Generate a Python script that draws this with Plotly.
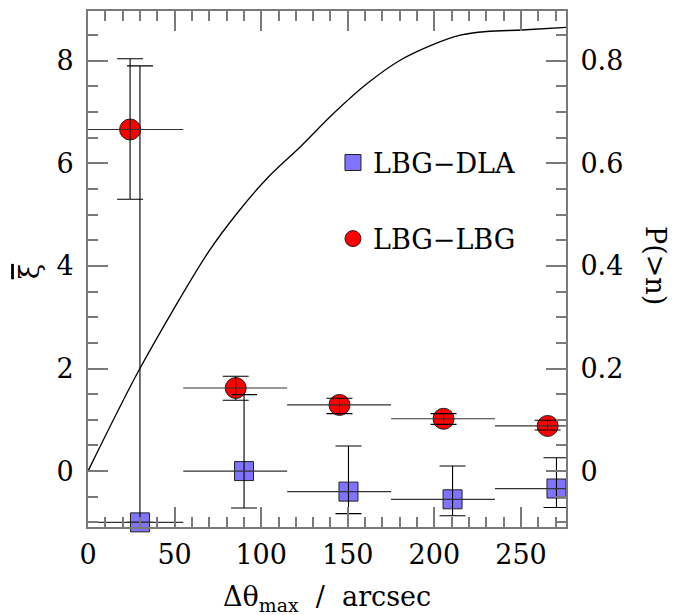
import plotly.graph_objects as go

# ---- data ----
bin_lo = [0, 55, 115, 175, 235]
bin_hi = [55, 115, 175, 235, 295]

lbg_x = [24.3, 85.3, 145.2, 205.3, 265.4]
lbg_xi = [6.66, 1.62, 1.29, 1.02, 0.88]
lbg_hi = [8.04, 1.85, 1.42, 1.12, 0.99]
lbg_lo = [5.30, 1.38, 1.12, 0.91, 0.80]

dla_x = [30.0, 90.1, 150.4, 210.5, 270.5]
dla_xi = [-1.00, 0.00, -0.40, -0.55, -0.34]
dla_hi = [7.90, 1.49, 0.49, 0.10, 0.26]
dla_lo = [-1.00, -0.72, -0.83, -0.87, -0.71]

p_x = [0, 29.8, 69.3, 87.6, 104.0, 122.5, 141.7, 161.0, 180.2, 199.5, 214.9, 230.3, 250.5, 276.0]
p_val = [0.0, 0.199, 0.426, 0.509, 0.573, 0.632, 0.697, 0.755, 0.801, 0.832, 0.850, 0.857, 0.860, 0.865]

x_ticks = [0, 50, 100, 150, 200, 250]
y_ticks = [0, 2, 4, 6, 8]
p_ticks = [0, 0.2, 0.4, 0.6, 0.8]

FONT = "DejaVu Serif"
GREY = "#7a7a7a"
RED = "#ff0000"
BLUE = "#8073ff"


def errs(x, y, lo, hi, blo, bhi):
    return dict(
        xp=[b - xi for xi, b in zip(x, bhi)],
        xm=[xi - b for xi, b in zip(x, blo)],
        yp=[h - yi for yi, h in zip(y, hi)],
        ym=[yi - l for yi, l in zip(y, lo)],
    )


fig = go.Figure()

# P(>n) curve on the right axis
fig.add_trace(go.Scatter(x=p_x, y=p_val, mode="lines", yaxis="y2",
                         line=dict(color="black", width=1.3, shape="spline", smoothing=0.8),
                         showlegend=False, hoverinfo="skip"))

# markers
fig.add_trace(go.Scatter(x=dla_x, y=dla_xi, mode="markers", name="LBG\u2212DLA",
                         legendgroup="a", cliponaxis=False,
                         marker=dict(symbol="square", size=19, color=BLUE,
                                     line=dict(color="#222", width=1))))
fig.add_trace(go.Scatter(x=lbg_x, y=lbg_xi, mode="markers", name="LBG\u2212LBG",
                         legendgroup="b", cliponaxis=False,
                         marker=dict(symbol="circle", size=21, color=RED,
                                     line=dict(color="#222", width=1))))

# error bars drawn on top of the markers
for x, y, lo, hi in [(dla_x, dla_xi, dla_lo, dla_hi), (lbg_x, lbg_xi, lbg_lo, lbg_hi)]:
    e = errs(x, y, lo, hi, bin_lo, bin_hi)
    fig.add_trace(go.Scatter(
        x=x, y=y, mode="markers", showlegend=False, hoverinfo="skip",
        marker=dict(size=1, color="rgba(0,0,0,0)"),
        error_x=dict(type="data", symmetric=False, array=e["xp"], arrayminus=e["xm"],
                     color="#333", thickness=1.2, width=0),
        error_y=dict(type="data", symmetric=False, array=e["yp"], arrayminus=e["ym"],
                     color="black", thickness=1.1, width=13),
    ))

axis_common = dict(showgrid=False, zeroline=False, showline=True, linecolor=GREY,
                   linewidth=2, ticks="inside", ticklen=20, tickwidth=1.5,
                   tickcolor=GREY, tickfont=dict(family=FONT, size=27, color="black"))

fig.update_layout(
    width=696, height=615,
    margin=dict(l=88, r=130, t=9, b=88),
    paper_bgcolor="white", plot_bgcolor="white",
    font=dict(family=FONT, size=27, color="black"),
    xaxis=dict(range=[0, 276], tickvals=x_ticks, mirror="ticks", ticklabelstandoff=3,
               minor=dict(dtick=10, tick0=0, ticklen=10, ticks="inside",
                          tickcolor=GREY, tickwidth=1.5),
               **axis_common),
    yaxis=dict(range=[-1.09, 8.97], tickvals=y_ticks, ticklabelstandoff=7,
               minor=dict(dtick=0.5, tick0=0, ticklen=10, ticks="inside",
                          tickcolor=GREY, tickwidth=1.5),
               **axis_common),
    yaxis2=dict(range=[-0.109, 0.897], tickvals=p_ticks, overlaying="y", side="right",
                ticklabelstandoff=7,
                minor=dict(dtick=0.05, tick0=0, ticklen=10, ticks="inside",
                           tickcolor=GREY, tickwidth=1.5),
                **axis_common),
    legend=dict(x=0.5125, y=0.753, xanchor="left", yanchor="top",
                bgcolor="rgba(0,0,0,0)", font=dict(family=FONT, size=27),
                traceorder="grouped", tracegroupgap=38),
    annotations=[
        dict(text='<span style="text-decoration:overline">\u03be</span>',
             xref="paper", yref="paper", x=-0.123, y=0.494,
             textangle=-90, showarrow=False, font=dict(family=FONT, size=28),
             xanchor="center", yanchor="middle"),
        dict(text="P(>n)", xref="paper", yref="paper", x=1.186, y=0.506,
             textangle=90, showarrow=False, font=dict(family=FONT, size=27),
             xanchor="center", yanchor="middle"),
        dict(text="\u0394\u03b8<sub>max</sub>\u00a0\u00a0/\u00a0\u00a0arcsec", xref="paper", yref="paper",
             x=0.5, y=-0.138, showarrow=False, font=dict(family=FONT, size=27),
             xanchor="center", yanchor="middle"),
    ],
)

fig.write_html("out.html")
